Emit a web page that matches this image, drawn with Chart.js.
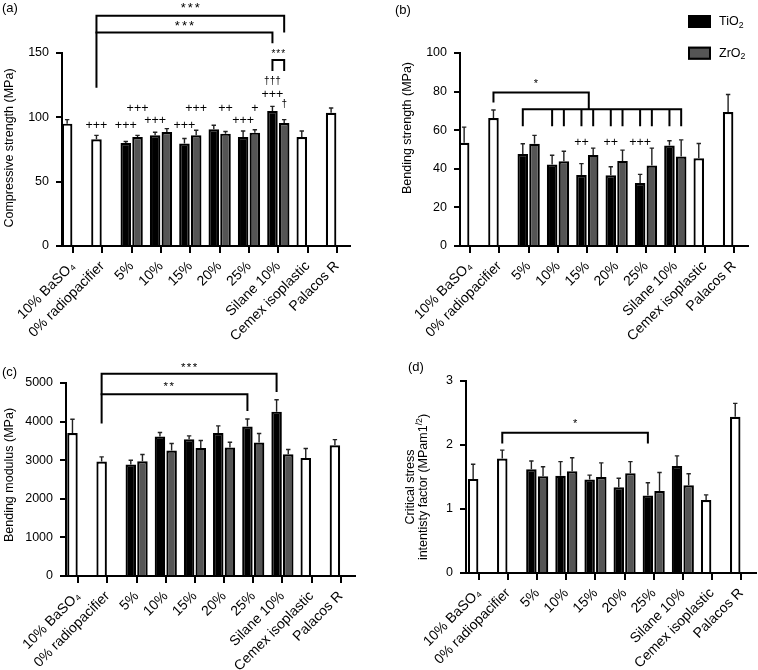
<!DOCTYPE html>
<html>
<head>
<meta charset="utf-8">
<script src="https://cdn.jsdelivr.net/npm/chart.js@4.4.1/dist/chart.umd.min.js"></script>
<style>
  body { margin: 0; background: #fff; }
  #figure { position: relative; width: 758px; height: 670px; }
  #figure canvas { position: absolute; }
</style>
</head>
<body>
<div id="figure">
  <canvas id="chart-a" width="379" height="345" style="left:0;top:0"></canvas>
  <canvas id="chart-b" width="379" height="345" style="left:379px;top:0"></canvas>
  <canvas id="chart-c" width="379" height="335" style="left:0;top:335px"></canvas>
  <canvas id="chart-d" width="379" height="335" style="left:379px;top:335px"></canvas>
</div>
<script>
const FONT = '"Liberation Sans", Arial, Helvetica, sans-serif';

let categories = ["10% BaSO₄", "0% radiopacifier", "5%", "10%", "15%", "20%", "25%", "Silane 10%", "Cemex isoplastic", "Palacos R"];

// (a) compressive strength (MPa)
let compControl = [95.1, 83.0, null, null, null, null, null, null, 84.7, 103.6];
let compControlErr = [3.1, 3.0, null, null, null, null, null, null, 4.7, 3.6];
let compTiO2 = [null, null, 80.0, 86.0, 79.6, 90.7, 84.7, 104.9, null, null];
let compTiO2Err = [null, null, 1.2, 2.4, 3.9, 3.1, 4.7, 3.6, null, null];
let compZrO2 = [null, null, 84.7, 88.6, 86.0, 87.3, 88.1, 95.6, null, null];
let compZrO2Err = [null, null, 1.3, 2.6, 4.0, 1.7, 2.3, 2.6, null, null];
let compTicks = [0, 50, 100, 150];

// (b) bending strength (MPa)
let bendControl = [53.5, 66.3, null, null, null, null, null, null, 45.5, 69.4];
let bendControlErr = [8.1, 4.2, null, null, null, null, null, null, 7.6, 9.1];
let bendTiO2 = [null, null, 47.7, 42.2, 36.8, 36.6, 32.6, 52.1, null, null];
let bendTiO2Err = [null, null, 5.3, 4.8, 5.9, 4.5, 4.5, 2.4, null, null];
let bendZrO2 = [null, null, 53.0, 43.9, 47.2, 44.1, 41.7, 46.4, null, null];
let bendZrO2Err = [null, null, 4.3, 5.2, 3.5, 5.6, 9.0, 8.6, null, null];
let bendTicks = [0, 20, 40, 60, 80, 100];

// (c) bending modulus (MPa)
let modControl = [3706, 2966, null, null, null, null, null, null, 3060, 3388];
let modControlErr = [354, 120, null, null, null, null, null, null, 242, 146];
let modTiO2 = [null, null, 2888, 3612, 3543, 3706, 3871, 4258, null, null];
let modTiO2Err = [null, null, 112, 104, 86, 182, 197, 310, null, null];
let modZrO2 = [null, null, 2974, 3250, 3319, 3327, 3457, 3155, null, null];
let modZrO2Err = [null, null, 172, 181, 190, 138, 233, 121, null, null];
let modTicks = [0, 1000, 2000, 3000, 4000, 5000];

// (d) critical stress intensity factor
let kicControl = [1.47, 1.79, null, null, null, null, null, null, 1.14, 2.44];
let kicControlErr = [0.23, 0.13, null, null, null, null, null, null, 0.08, 0.21];
let kicTiO2 = [null, null, 1.62, 1.52, 1.46, 1.34, 1.21, 1.67, null, null];
let kicTiO2Err = [null, null, 0.13, 0.22, 0.07, 0.14, 0.20, 0.16, null, null];
let kicZrO2 = [null, null, 1.51, 1.59, 1.50, 1.56, 1.28, 1.37, null, null];
let kicZrO2Err = [null, null, 0.15, 0.21, 0.22, 0.18, 0.29, 0.18, null, null];
let kicTicks = [0, 1, 2, 3];

// significance brackets: x in category units (±0.2 = TiO2 / ZrO2 slot), y in data units
let bracketsA = [
  { y: 179, x1: 0.8, x2: 7.2, legs: [[0.8, 123], [7.2, 166]] },
  { y: 166, x1: 0.8, x2: 6.8, legs: [[6.8, 157.5]] },
  { y: 144.5, x1: 6.8, x2: 7.2, legs: [[6.8, 136], [7.2, 136]] },
];
let marksA = [
  { x: 4.0, y: 185, t: "***", size: 13, gap: 2 },
  { x: 3.8, y: 171, t: "***", size: 13, gap: 2 },
  { x: 7.0, y: 149, t: "***", size: 10, gap: 1 },
  { x: 0.8, y: 93.5, t: "+++" },
  { x: 1.8, y: 93.5, t: "+++" },
  { x: 2.2, y: 107, t: "+++" },
  { x: 2.8, y: 97.4, t: "+++" },
  { x: 3.8, y: 93.5, t: "+++" },
  { x: 4.2, y: 107, t: "+++" },
  { x: 5.2, y: 107, t: "++" },
  { x: 5.8, y: 97.4, t: "+++" },
  { x: 6.2, y: 107, t: "+" },
  { x: 6.8, y: 117.9, t: "+++" },
  { x: 6.8, y: 128.2, t: "†††", size: 10 },
  { x: 7.2, y: 110.3, t: "†", size: 10 },
];

let bracketsB = [
  { y: 79.5, x1: 0.8, x2: 4.05, legs: [[0.8, 74.3], [4.05, 70.8]] },
  { y: 70.8, x1: 1.8, x2: 7.2, legs: [[1.8, 62], [2.8, 62], [3.2, 62], [3.8, 62], [4.2, 62], [4.8, 62], [5.2, 62], [5.8, 62], [6.2, 62], [6.8, 62], [7.2, 62]] },
];
let marksB = [
  { x: 2.25, y: 84, t: "*", size: 11 },
  { x: 3.8, y: 53.8, t: "++" },
  { x: 4.8, y: 53.8, t: "++" },
  { x: 5.8, y: 53.8, t: "+++" },
];

let bracketsC = [
  { y: 5242, x1: 0.8, x2: 6.8, legs: [[0.8, 3948], [6.8, 4766]] },
  { y: 4707, x1: 0.8, x2: 5.8, legs: [[5.8, 4275]] },
];
let marksC = [
  { x: 3.8, y: 5400, t: "***", size: 11.5, gap: 1.5 },
  { x: 3.1, y: 4910, t: "**", size: 11.5, gap: 1.5 },
];

let bracketsD = [
  { y: 2.19, x1: 0.8, x2: 5.8, legs: [[0.8, 2.025], [5.8, 2.025]] },
];
let marksD = [
  { x: 3.3, y: 2.33, t: "*", size: 11 },
];

function font(size) {
  return size + "px " + FONT;
}

// draws text made of [text, kind] parts, kind = 'sub' | 'sup' | undefined
function drawRich(ctx, parts, x, y, size, align) {
  let total = 0;
  parts.forEach(([t, kind]) => {
    ctx.font = font(kind ? size * 0.7 : size);
    total += ctx.measureText(t).width;
  });
  let cx = align === "center" ? x - total / 2 : x;
  ctx.textAlign = "left";
  ctx.textBaseline = "middle";
  parts.forEach(([t, kind]) => {
    let s = kind ? size * 0.7 : size;
    let dy = kind === "sub" ? size * 0.3 : kind === "sup" ? -size * 0.35 : 0;
    ctx.font = font(s);
    ctx.fillText(t, cx, y + dy);
    cx += ctx.measureText(t).width;
  });
}

const figurePlugin = {
  id: "figure",
  afterDatasetsDraw(chart) {
    // one-sided error bars
    const ctx = chart.ctx;
    const yScale = chart.scales.y;
    ctx.save();
    ctx.strokeStyle = "#222";
    ctx.lineWidth = 1.4;
    chart.data.datasets.forEach((ds, di) => {
      chart.getDatasetMeta(di).data.forEach((bar, i) => {
        let v = ds.data[i];
        let e = ds.errors[i];
        if (v == null || e == null) return;
        let top = yScale.getPixelForValue(v + e);
        ctx.beginPath();
        ctx.moveTo(bar.x, bar.y);
        ctx.lineTo(bar.x, top);
        ctx.moveTo(bar.x - 2.2, top);
        ctx.lineTo(bar.x + 2.2, top);
        ctx.stroke();
      });
    });
    ctx.restore();
  },
  afterDraw(chart, args, opts) {
    const ctx = chart.ctx;
    const xs = chart.scales.x;
    const ys = chart.scales.y;
    ctx.save();
    ctx.fillStyle = "#000";
    ctx.strokeStyle = "#000";

    // brackets
    ctx.lineWidth = 2;
    ctx.lineJoin = "miter";
    opts.brackets.forEach((b) => {
      let y = ys.getPixelForValue(b.y);
      ctx.beginPath();
      ctx.moveTo(xs.getPixelForValue(b.x1) - 1, y);
      ctx.lineTo(xs.getPixelForValue(b.x2) + 1, y);
      b.legs.forEach(([lx, ly]) => {
        let px = xs.getPixelForValue(lx);
        ctx.moveTo(px, y);
        ctx.lineTo(px, ys.getPixelForValue(ly));
      });
      ctx.stroke();
    });

    // stars, plus signs, daggers
    ctx.textAlign = "center";
    ctx.textBaseline = "middle";
    opts.marks.forEach((m) => {
      ctx.font = font(m.size || 12.5);
      ctx.letterSpacing = (m.gap || 0) + "px";
      ctx.fillText(m.t, xs.getPixelForValue(m.x) + (m.gap || 0) / 2, ys.getPixelForValue(m.y));
    });
    ctx.letterSpacing = "0px";

    // y axis title
    opts.yTitle.forEach((line) => {
      ctx.save();
      ctx.translate(line.x, line.y);
      ctx.rotate(-Math.PI / 2);
      drawRich(ctx, line.parts, 0, 0, 12.5, "center");
      ctx.restore();
    });

    // panel letter
    drawRich(ctx, [[opts.label]], opts.labelPos[0], opts.labelPos[1], 13, "left");

    // legend (only panel b)
    if (opts.legend) {
      let lg = opts.legend;
      ctx.fillStyle = "#000";
      ctx.fillRect(lg.x, lg.y, 23, 13);
      ctx.fillStyle = "#555";
      ctx.fillRect(lg.x, lg.y + lg.gap, 23, 13);
      ctx.lineWidth = 2;
      ctx.strokeRect(lg.x + 1, lg.y + lg.gap + 1, 21, 11);
      ctx.fillStyle = "#000";
      drawRich(ctx, [["TiO"], ["2", "sub"]], lg.x + 31, lg.y + 6.5, 12.5, "left");
      drawRich(ctx, [["ZrO"], ["2", "sub"]], lg.x + 31, lg.y + lg.gap + 6.5, 12.5, "left");
    }
    ctx.restore();
  },
};

function buildDatasets(control, controlErr, tio2, tio2Err, zro2, zro2Err) {
  return [
    {
      label: "TiO2",
      data: control.map((c, i) => (c != null ? c : tio2[i])),
      errors: controlErr.map((e, i) => (e != null ? e : tio2Err[i])),
      backgroundColor: control.map((c) => (c != null ? "#fff" : "#000")),
      borderColor: "#000",
      borderWidth: 2.2,
    },
    {
      label: "ZrO2",
      data: zro2,
      errors: zro2Err,
      backgroundColor: "#555",
      borderColor: "#000",
      borderWidth: 2.2,
    },
  ];
}

// p: canvas-local layout for one panel
function makeChart(p) {
  let areaWidth = 379 - p.axisWidth - p.padRight;
  return new Chart(document.getElementById(p.id), {
    type: "bar",
    data: { labels: categories, datasets: p.datasets },
    options: {
      responsive: false,
      animation: false,
      layout: { padding: { top: p.padTop, right: p.padRight, left: 0, bottom: 0 } },
      plugins: {
        legend: { display: false },
        tooltip: { enabled: false },
        figure: {
          brackets: p.brackets,
          marks: p.marks,
          yTitle: p.yTitle,
          label: p.label,
          labelPos: p.labelPos,
          legend: p.legend,
        },
      },
      scales: {
        x: {
          offset: true,
          grid: { offset: false, drawOnChartArea: false, tickLength: 7, lineWidth: 2, color: "#000" },
          border: { color: "#000", width: 2 },
          ticks: { autoSkip: false, minRotation: 45, maxRotation: 45, color: "#000", font: { family: FONT, size: 14 }, padding: 5 },
          afterFit: (s) => { s.height = p.axisHeight; },
          afterBuildTicks: (s) => {
            // uneven gap at both ends of the category axis
            s._startValue = -p.firstTick / p.spacing;
            s._valueRange = areaWidth / p.spacing;
          },
        },
        y: {
          min: p.ticks[0],
          max: p.ticks[p.ticks.length - 1],
          ticks: {
            stepSize: p.ticks[1] - p.ticks[0],
            color: "#000",
            font: { family: FONT, size: 12.5 },
            padding: 7,
            callback: (v) => String(v),
          },
          grid: { drawOnChartArea: false, tickLength: 6, lineWidth: 2, color: "#000" },
          border: { color: "#000", width: 2 },
          afterFit: (s) => { s.width = p.axisWidth; },
        },
      },
    },
    plugins: [figurePlugin],
  });
}

makeChart({
  id: "chart-a",
  datasets: buildDatasets(compControl, compControlErr, compTiO2, compTiO2Err, compZrO2, compZrO2Err),
  ticks: compTicks,
  brackets: bracketsA,
  marks: marksA,
  axisWidth: 62, padTop: 53, padRight: 29, axisHeight: 99,
  firstTick: 11, spacing: 29.33,
  label: "(a)", labelPos: [2, 8],
  yTitle: [{ x: 10, y: 148, parts: [["Compressive strength (MPa)"]] }],
});

makeChart({
  id: "chart-b",
  datasets: buildDatasets(bendControl, bendControlErr, bendTiO2, bendTiO2Err, bendZrO2, bendZrO2Err),
  ticks: bendTicks,
  brackets: bracketsB,
  marks: marksB,
  axisWidth: 81, padTop: 53, padRight: 10, axisHeight: 99,
  firstTick: 10, spacing: 29.33,
  label: "(b)", labelPos: [16, 10],
  legend: { x: 309, y: 15, gap: 31.7 },
  yTitle: [{ x: 28.5, y: 128, parts: [["Bending strength (MPa)"]] }],
});

makeChart({
  id: "chart-c",
  datasets: buildDatasets(modControl, modControlErr, modTiO2, modTiO2Err, modZrO2, modZrO2Err),
  ticks: modTicks,
  brackets: bracketsC,
  marks: marksC,
  axisWidth: 66, padTop: 48, padRight: 24, axisHeight: 94,
  firstTick: 12.3, spacing: 29.16,
  label: "(c)", labelPos: [2, 37],
  yTitle: [{ x: 10, y: 140, parts: [["Bending modulus (MPa)"]] }],
});

makeChart({
  id: "chart-d",
  datasets: buildDatasets(kicControl, kicControlErr, kicTiO2, kicTiO2Err, kicZrO2, kicZrO2Err),
  ticks: kicTicks,
  brackets: bracketsD,
  marks: marksD,
  axisWidth: 87, padTop: 46, padRight: 1, axisHeight: 97,
  firstTick: 13, spacing: 29.19,
  label: "(d)", labelPos: [29, 32.5],
  yTitle: [
    { x: 31.5, y: 152, parts: [["Critical stress"]] },
    { x: 44.5, y: 152, parts: [["intentisty factor (MPam1"], ["/2", "sup"], [")"]] },
  ],
});
</script>
</body>
</html>
